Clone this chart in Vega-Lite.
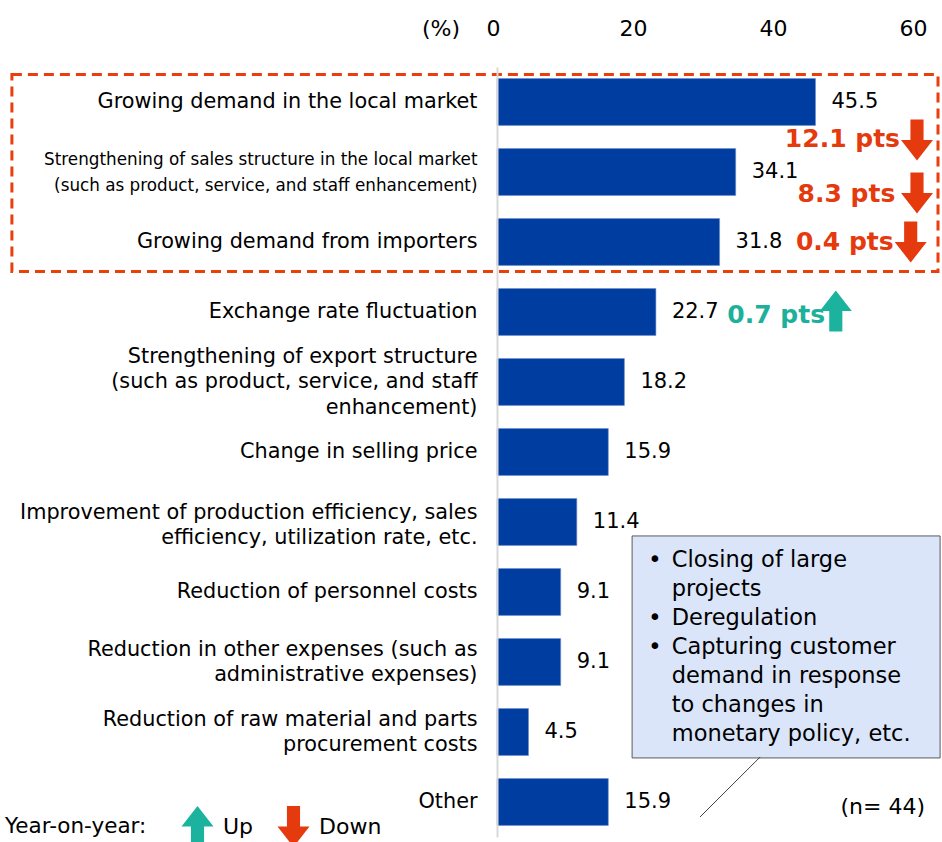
{
  "$schema": "https://vega.github.io/schema/vega-lite/v6.json",
  "width": 420,
  "height": 770,
  "autosize": "none",
  "padding": {"left": 497, "top": 67, "right": 25, "bottom": 5},
  "background": "white",
  "config": {"view": {"stroke": null}, "font": "DejaVu Sans"},
  "datasets": {
    "main": [
      {"item": "Growing demand in the local market", "value": 45.5},
      {"item": "Strengthening of sales structure in the local market|(such as product, service, and staff enhancement)", "value": 34.1},
      {"item": "Growing demand from importers", "value": 31.8},
      {"item": "Exchange rate fluctuation", "value": 22.7},
      {"item": "Strengthening of export structure|(such as product, service, and staff|enhancement)", "value": 18.2},
      {"item": "Change in selling price", "value": 15.9},
      {"item": "Improvement of production efficiency, sales|efficiency, utilization rate, etc.", "value": 11.4},
      {"item": "Reduction of personnel costs", "value": 9.1},
      {"item": "Reduction in other expenses (such as|administrative expenses)", "value": 9.1},
      {"item": "Reduction of raw material and parts|procurement costs", "value": 4.5},
      {"item": "Other", "value": 15.9}
    ]
  },
  "layer": [
    {
      "data": {"values": [{"note": "box"}]},
      "mark": {"type": "rect", "filled": false, "color": "#E8400C", "strokeWidth": 3, "strokeDash": [10, 6], "yOffset": -4, "y2Offset": 6},
      "encoding": {
        "x": {"datum": -69.3, "type": "quantitative"},
        "x2": {"datum": 63.0},
        "y": {"datum": "Growing demand in the local market", "type": "nominal", "bandPosition": 0},
        "y2": {"datum": "Growing demand from importers", "bandPosition": 1}
      }
    },
    {
      "data": {"name": "main"},
      "mark": {"type": "bar", "color": "#003DA1", "stroke": "#6F8FCC", "strokeWidth": 0.6},
      "encoding": {
        "y": {
          "field": "item", "type": "nominal", "sort": null,
          "scale": {
            "domain": [
              "Growing demand in the local market",
              "Strengthening of sales structure in the local market|(such as product, service, and staff enhancement)",
              "Growing demand from importers",
              "Exchange rate fluctuation",
              "Strengthening of export structure|(such as product, service, and staff|enhancement)",
              "Change in selling price",
              "Improvement of production efficiency, sales|efficiency, utilization rate, etc.",
              "Reduction of personnel costs",
              "Reduction in other expenses (such as|administrative expenses)",
              "Reduction of raw material and parts|procurement costs",
              "Other"
            ],
            "paddingInner": 0.33, "paddingOuter": 0.165
          },
          "axis": {
            "title": null, "ticks": false, "domain": true, "domainColor": "#D9D9D9", "domainWidth": 2,
            "labelExpr": "split(datum.label, '|')",
            "labelFontSize": {"condition": {"test": "indexof(datum.value, 'sales structure') >= 0", "value": 16.8}, "value": 20.8},
            "labelOffset": {"condition": [
              {"test": "indexof(datum.value, 'sales structure') >= 0", "value": -12},
              {"test": "indexof(datum.value, 'Improvement') >= 0", "value": -9.5},
              {"test": "length(split(datum.value, '|')) == 3", "value": -25.5},
              {"test": "length(split(datum.value, '|')) == 2", "value": -12.5}
            ], "value": 0},
            "labelLineHeight": 25.5, "labelColor": "#000000",
            "labelPadding": 20, "labelLimit": 600, "labelFont": "DejaVu Sans"
          }
        },
        "x": {
          "field": "value", "type": "quantitative",
          "scale": {"domain": [0, 60], "nice": false},
          "axis": {
            "orient": "top", "values": [0, 20, 40, 60], "ticks": false, "domain": false, "grid": false,
            "labelFontSize": 22, "labelColor": "#000000", "labelPadding": 27, "labelOffset": -4, "labelFlush": false,
            "labelFont": "DejaVu Sans",
            "title": "(%)", "titleX": -56.5, "titleY": -31.5, "titleAlign": "center", "titleBaseline": "alphabetic",
            "titleFontSize": 22, "titleFontWeight": "normal", "titleColor": "#000000", "titleFont": "DejaVu Sans", "titleAngle": 0
          }
        }
      }
    },
    {
      "data": {"name": "main"},
      "mark": {"type": "text", "align": "left", "baseline": "middle", "dx": 16, "fontSize": 21, "color": "#000000"},
      "encoding": {
        "y": {"field": "item", "type": "nominal"},
        "x": {"field": "value", "type": "quantitative"},
        "text": {"field": "value", "type": "quantitative", "format": ".1f"}
      }
    },
    {
      "data": {"values": [{"note": "callout"}]},
      "mark": {"type": "rect", "fill": "#DAE5F9", "stroke": "#595959", "strokeWidth": 1, "yOffset": -9.5, "y2Offset": 2.5},
      "encoding": {
        "x": {"datum": 19.3, "type": "quantitative"},
        "x2": {"datum": 63.3},
        "y": {"datum": "Improvement of production efficiency, sales|efficiency, utilization rate, etc.", "type": "nominal", "bandPosition": 1},
        "y2": {"datum": "Reduction of raw material and parts|procurement costs", "bandPosition": 1}
      }
    },
    {
      "data": {"values": [{"lines": ["Closing of large", "projects", "Deregulation", "Capturing customer", "demand in response", "to changes in", "monetary policy, etc."], "bullet1": "•", "bullets2": ["•", "•"]}]},
      "layer": [
        {
          "mark": {"type": "text", "align": "left", "baseline": "middle", "fontSize": 22.5, "lineHeight": 29, "dy": -32, "color": "#000000"},
          "encoding": {
            "x": {"datum": 24.96, "type": "quantitative"},
            "y": {"datum": "Reduction of personnel costs", "type": "nominal"},
            "text": {"field": "lines", "type": "nominal"}
          }
        },
        {
          "mark": {"type": "text", "align": "left", "baseline": "middle", "fontSize": 22.5, "lineHeight": 29, "dy": -32, "color": "#000000"},
          "encoding": {
            "x": {"datum": 21.6, "type": "quantitative"},
            "y": {"datum": "Reduction of personnel costs", "type": "nominal"},
            "text": {"field": "bullet1", "type": "nominal"}
          }
        },
        {
          "mark": {"type": "text", "align": "left", "baseline": "middle", "fontSize": 22.5, "lineHeight": 29, "dy": 26, "color": "#000000"},
          "encoding": {
            "x": {"datum": 21.6, "type": "quantitative"},
            "y": {"datum": "Reduction of personnel costs", "type": "nominal"},
            "text": {"field": "bullets2", "type": "nominal"}
          }
        }
      ]
    },
    {
      "data": {"values": [{"note": "pointer"}]},
      "mark": {"type": "rule", "color": "#404040", "strokeWidth": 1, "yOffset": 1.5},
      "encoding": {
        "x": {"datum": 37.6, "type": "quantitative"},
        "x2": {"datum": 29.0},
        "y": {"datum": "Reduction of raw material and parts|procurement costs", "type": "nominal", "bandPosition": 1},
        "y2": {"datum": "Other", "bandPosition": 0.82}
      }
    },
    {
      "data": {"values": [{"n": "(n= 44)"}]},
      "mark": {"type": "text", "align": "right", "baseline": "middle", "fontSize": 22, "dy": 5, "color": "#000000"},
      "encoding": {
        "x": {"datum": 61.14, "type": "quantitative"},
        "y": {"datum": "Other", "type": "nominal"},
        "text": {"field": "n", "type": "nominal"}
      }
    },
    {
      "data": {"values": [{"item": "Growing demand in the local market", "pts": "12.1 pts", "dir": "Down"}]},
      "layer": [
        {
          "mark": {"type": "text", "align": "right", "baseline": "middle", "fontSize": 25, "fontWeight": "bold", "color": "#E5390E", "dy": 37},
          "encoding": {"x": {"datum": 57.57, "type": "quantitative"}, "y": {"field": "item", "type": "nominal"}, "text": {"field": "pts", "type": "nominal"}}
        },
        {
          "mark": {"type": "point", "filled": true, "opacity": 1, "size": 1681, "yOffset": 38},
          "encoding": {
            "x": {"datum": 60.0, "type": "quantitative"},
            "y": {"field": "item", "type": "nominal"},
            "shape": {"field": "dir", "type": "nominal", "scale": {"domain": ["Up", "Down"], "range": ["M-0.32,1L0.32,1L0.32,0L0.78,0L0,-1L-0.78,0L-0.32,0Z", "M-0.32,-1L0.32,-1L0.32,0L0.78,0L0,1L-0.78,0L-0.32,0Z"]},
              "legend": {"title": "Year-on-year:", "orient": "none", "legendX": -492, "legendY": 739, "direction": "horizontal", "titleOrient": "left", "titleFontSize": 21.5, "titleFontWeight": "normal", "titleColor": "#000000", "titleFont": "DejaVu Sans", "titleBaseline": "middle", "labelFontSize": 22, "labelColor": "#000000", "labelFont": "DejaVu Sans", "symbolSize": 1681, "symbolStrokeWidth": 0, "titlePadding": 30, "labelOffset": 5, "columnPadding": 19, "symbolOpacity": 1}},
            "color": {"field": "dir", "type": "nominal", "scale": {"domain": ["Up", "Down"], "range": ["#1BB39E", "#E5390E"]},
              "legend": {"title": "Year-on-year:", "orient": "none", "legendX": -492, "legendY": 739, "direction": "horizontal", "titleOrient": "left", "titleFontSize": 21.5, "titleFontWeight": "normal", "titleColor": "#000000", "titleFont": "DejaVu Sans", "titleBaseline": "middle", "labelFontSize": 22, "labelColor": "#000000", "labelFont": "DejaVu Sans", "symbolSize": 1681, "symbolStrokeWidth": 0, "titlePadding": 30, "labelOffset": 5, "columnPadding": 19, "symbolOpacity": 1}}
          }
        }
      ]
    },
    {
      "data": {"values": [{"item": "Strengthening of sales structure in the local market|(such as product, service, and staff enhancement)", "pts": "8.3 pts", "dir": "Down"}]},
      "layer": [
        {
          "mark": {"type": "text", "align": "right", "baseline": "middle", "fontSize": 25, "fontWeight": "bold", "color": "#E5390E", "dy": 21.5},
          "encoding": {"x": {"datum": 56.9, "type": "quantitative"}, "y": {"field": "item", "type": "nominal"}, "text": {"field": "pts", "type": "nominal"}}
        },
        {
          "mark": {"type": "point", "filled": true, "opacity": 1, "size": 1681, "yOffset": 21},
          "encoding": {
            "x": {"datum": 60.0, "type": "quantitative"},
            "y": {"field": "item", "type": "nominal"},
            "shape": {"field": "dir", "type": "nominal"},
            "color": {"field": "dir", "type": "nominal"}
          }
        }
      ]
    },
    {
      "data": {"values": [{"item": "Growing demand from importers", "pts": "0.4 pts", "dir": "Down"}]},
      "layer": [
        {
          "mark": {"type": "text", "align": "right", "baseline": "middle", "fontSize": 25, "fontWeight": "bold", "color": "#E5390E", "dy": 0},
          "encoding": {"x": {"datum": 56.67, "type": "quantitative"}, "y": {"field": "item", "type": "nominal"}, "text": {"field": "pts", "type": "nominal"}}
        },
        {
          "mark": {"type": "point", "filled": true, "opacity": 1, "size": 1681, "yOffset": 0},
          "encoding": {
            "x": {"datum": 59.1, "type": "quantitative"},
            "y": {"field": "item", "type": "nominal"},
            "shape": {"field": "dir", "type": "nominal"},
            "color": {"field": "dir", "type": "nominal"}
          }
        }
      ]
    },
    {
      "data": {"values": [{"item": "Exchange rate fluctuation", "pts": "0.7 pts", "dir": "Up"}]},
      "layer": [
        {
          "mark": {"type": "text", "align": "right", "baseline": "middle", "fontSize": 25, "fontWeight": "bold", "color": "#1DB09A", "dy": 3},
          "encoding": {"x": {"datum": 46.86, "type": "quantitative"}, "y": {"field": "item", "type": "nominal"}, "text": {"field": "pts", "type": "nominal"}}
        },
        {
          "mark": {"type": "point", "filled": true, "opacity": 1, "size": 1681, "yOffset": -1},
          "encoding": {
            "x": {"datum": 48.4, "type": "quantitative"},
            "y": {"field": "item", "type": "nominal"},
            "shape": {"field": "dir", "type": "nominal"},
            "color": {"field": "dir", "type": "nominal"}
          }
        }
      ]
    }
  ]
}
